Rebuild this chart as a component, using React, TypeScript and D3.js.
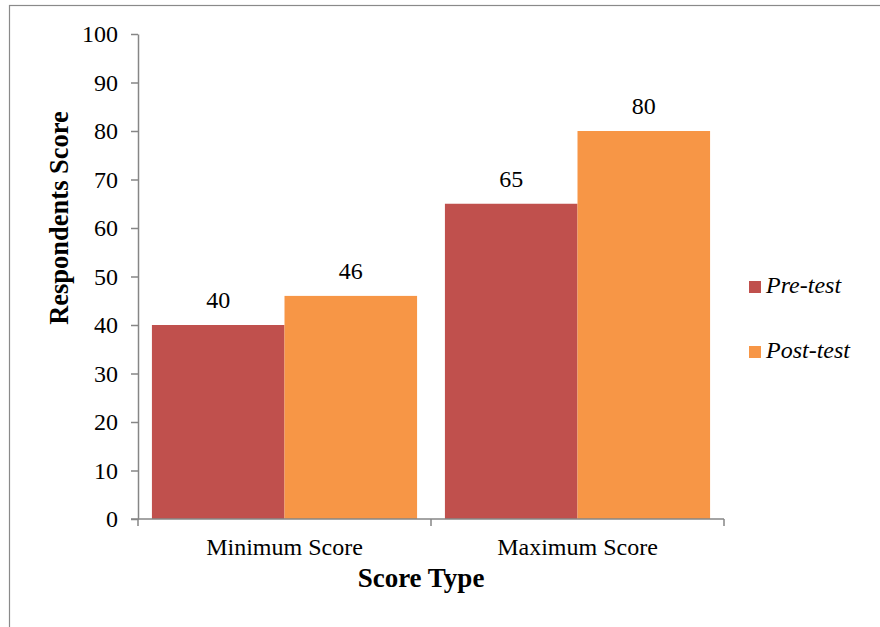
import { useEffect, useRef } from "react";
import * as d3 from "d3";

const categories = ["Minimum Score", "Maximum Score"];
const seriesNames = ["Pre-test", "Post-test"];
const preTest = [40, 65];
const postTest = [46, 80];
const yTicks = [0, 10, 20, 30, 40, 50, 60, 70, 80, 90, 100];

const colors = ["#C0504D", "#F79646"];
const serif = "'Liberation Serif', 'Times New Roman', serif";

export default function App() {
  const ref = useRef<SVGSVGElement>(null);

  useEffect(() => {
    const svg = d3.select(ref.current);
    svg.selectAll("*").remove();

    const w = 880,
      h = 627;
    const margin = { top: 34, left: 138, right: 724, bottom: 519 };
    const axisColor = "#868686";

    // outer frame (cut off on the right and bottom)
    svg
      .append("rect")
      .attr("x", 9.5)
      .attr("y", 5.5)
      .attr("width", w)
      .attr("height", h)
      .attr("fill", "none")
      .attr("stroke", "#8a8a8a")
      .attr("stroke-width", 1.2);

    const x0 = d3
      .scaleBand()
      .domain(categories)
      .range([margin.left, margin.right])
      .paddingInner(0)
      .paddingOuter(0);

    const x1 = d3
      .scaleBand()
      .domain(seriesNames)
      .range([0, x0.bandwidth()])
      .paddingOuter(0.105)
      .paddingInner(0);

    const y = d3
      .scaleLinear()
      .domain([0, 100])
      .range([margin.bottom, margin.top]);

    const rows = categories.map((c, i) => ({
      category: c,
      values: [preTest[i], postTest[i]],
    }));

    const groups = svg
      .append("g")
      .selectAll("g")
      .data(rows)
      .join("g")
      .attr("transform", (d) => `translate(${x0(d.category)},0)`);

    groups
      .selectAll("rect")
      .data((d) => d.values.map((v, j) => ({ name: seriesNames[j], v, j })))
      .join("rect")
      .attr("x", (d) => x1(d.name)!)
      .attr("y", (d) => y(d.v))
      .attr("width", x1.bandwidth())
      .attr("height", (d) => y(0) - y(d.v))
      .attr("fill", (d) => colors[d.j]);

    groups
      .selectAll("text")
      .data((d) => d.values.map((v, j) => ({ name: seriesNames[j], v })))
      .join("text")
      .attr("x", (d) => x1(d.name)! + x1.bandwidth() / 2)
      .attr("y", (d) => y(d.v) - 17)
      .attr("text-anchor", "middle")
      .attr("font-family", serif)
      .attr("font-size", 24)
      .attr("fill", "#000")
      .text((d) => d.v);

    // y axis
    const yAxis = svg
      .append("g")
      .attr("transform", `translate(${margin.left},0)`)
      .call(
        d3
          .axisLeft(y)
          .tickValues(yTicks)
          .tickSize(7)
          .tickPadding(13)
          .tickSizeOuter(0)
      );
    yAxis.select(".domain").attr("stroke", axisColor).attr("stroke-width", 1.5);
    yAxis.selectAll("line").attr("stroke", axisColor).attr("stroke-width", 1.5);
    yAxis
      .selectAll("text")
      .attr("font-family", serif)
      .attr("font-size", 24)
      .attr("fill", "#000");

    // x axis with ticks at category boundaries
    const xAxis = svg
      .append("g")
      .attr("transform", `translate(0,${margin.bottom})`);
    xAxis
      .append("line")
      .attr("x1", margin.left - 7)
      .attr("x2", margin.right)
      .attr("stroke", axisColor)
      .attr("stroke-width", 1.5);
    const bounds = [
      ...categories.map((c) => x0(c)!),
      x0(categories[categories.length - 1])! + x0.bandwidth(),
    ];
    xAxis
      .selectAll("line.tick")
      .data(bounds)
      .join("line")
      .attr("class", "tick")
      .attr("x1", (d) => d)
      .attr("x2", (d) => d)
      .attr("y1", 0)
      .attr("y2", 7)
      .attr("stroke", axisColor)
      .attr("stroke-width", 1.5);
    xAxis
      .selectAll("text")
      .data(categories)
      .join("text")
      .attr("x", (d) => x0(d)! + x0.bandwidth() / 2)
      .attr("y", 36)
      .attr("text-anchor", "middle")
      .attr("font-family", serif)
      .attr("font-size", 24)
      .attr("fill", "#000")
      .text((d) => d);

    // axis titles
    svg
      .append("text")
      .attr("x", 421)
      .attr("y", 587)
      .attr("text-anchor", "middle")
      .attr("font-family", serif)
      .attr("font-weight", "bold")
      .attr("font-size", 27)
      .text("Score Type");

    svg
      .append("text")
      .attr("transform", `translate(68,218) rotate(-90)`)
      .attr("text-anchor", "middle")
      .attr("font-family", serif)
      .attr("font-weight", "bold")
      .attr("font-size", 26.5)
      .text("Respondents Score");

    // legend
    const legend = svg
      .append("g")
      .selectAll("g")
      .data(seriesNames)
      .join("g")
      .attr("transform", (_d, i) => `translate(749,${281 + i * 65})`);
    legend
      .append("rect")
      .attr("width", 12)
      .attr("height", 12)
      .attr("fill", (_d, i) => colors[i]);
    legend
      .append("text")
      .attr("x", 17)
      .attr("y", 12)
      .attr("font-family", serif)
      .attr("font-style", "italic")
      .attr("font-size", 24)
      .text((d) => d);
  }, []);

  return (
    <svg
      ref={ref}
      width={880}
      height={627}
      style={{ position: "absolute", left: 0, top: 0, background: "#fff" }}
    />
  );
}
